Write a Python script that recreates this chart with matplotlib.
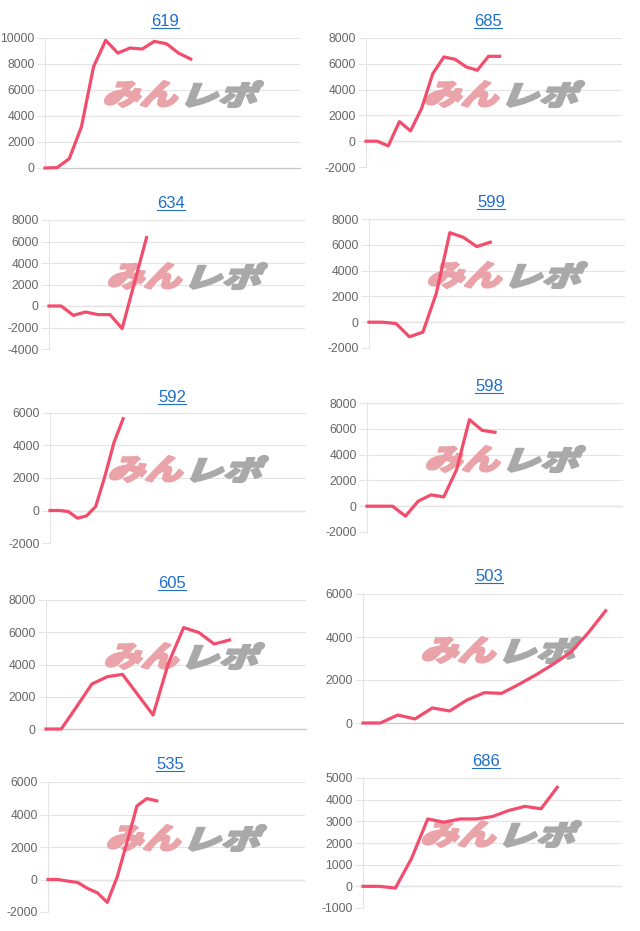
import numpy as np
import matplotlib
matplotlib.use("Agg")
import matplotlib.pyplot as plt
from matplotlib.textpath import TextPath
from matplotlib.font_manager import FontProperties
from matplotlib.patches import PathPatch
from matplotlib.transforms import Affine2D, IdentityTransform
from matplotlib.lines import Line2D

plt.rcParams['axes.unicode_minus'] = False

# --- data ---
titles = ['619', '685', '634', '599', '592', '598', '605', '503', '535', '686']

v619 = [0, 30, 720, 3170, 7800, 9820, 8840, 9230, 9150, 9740, 9560, 8840, 8380]
v685 = [0, 0, -360, 1520, 800, 2550, 5240, 6530, 6350, 5760, 5500, 6580, 6580]
v634 = [0, 0, -870, -560, -800, -800, -2100, 2130, 6360]
v599 = [0, 0, -100, -1130, -770, 2260, 6940, 6580, 5860, 6200]
v592 = [0, 0, -60, -470, -330, 250, 2100, 4190, 5650]
v598 = [0, 0, 0, -770, 390, 880, 720, 2840, 6710, 5880, 5730]
v605 = [0, 0, 1380, 2790, 3240, 3390, 2130, 870, 4070, 6290, 5980, 5270, 5520]
v503 = [0, 0, 370, 190, 700, 560, 1070, 1410, 1380, 1800, 2250, 2750, 3300, 4200, 5220]
v535 = [0, 0, -100, -180, -550, -820, -1410, 160, 2310, 4530, 4980, 4840]
v686 = [0, 0, -80, 1290, 3110, 2960, 3110, 3110, 3220, 3500, 3690, 3580, 4570]
series = [v619, v685, v634, v599, v592, v598, v605, v503, v535, v686]

# number of x slots on each chart (labels are hidden)
n_slots = [22, 24, 22, 20, 29, 21, 18, 16, 27, 17]
# y axis: min, max, step
y_axes = [(0, 10000, 2000), (-2000, 8000, 2000), (-4000, 8000, 2000),
          (-2000, 8000, 2000), (-2000, 6000, 2000), (-2000, 8000, 2000),
          (0, 8000, 2000), (0, 6000, 2000), (-2000, 6000, 2000),
          (-1000, 5000, 1000)]

# --- layout in pixels (left, right, top, bottom) ---
W, H = 640, 931
boxes = [(45, 300, 38, 168), (366, 622, 38, 167),
         (49, 305, 220, 349), (369, 625, 219, 348),
         (50, 306, 413, 543), (367, 623, 403, 532),
         (46, 306, 600, 729), (363, 623, 594, 723),
         (48, 305, 782, 912), (363, 622, 778, 908)]
title_xy = [(165, 26), (488, 26), (171, 208), (491, 207), (172, 402),
            (489, 391), (172, 588), (489, 581), (170, 769), (486, 766)]

LINE = '#f24d6c'
BLUE = '#1f6fc9'
GRID = '#e4e4e4'
PINK = '#eaa4a9'
GRAY = '#a9a9a9'

fig = plt.figure(figsize=(W / 100, H / 100), dpi=100)
wm_font = FontProperties(family='Noto Sans CJK JP', weight='heavy')


def watermark(ax, x0, y0):
    # "みんレポ" logo, skewed like the site's stamp
    parts = [('みん', PINK, 0, 73), ('レポ', GRAY, 81, 77)]
    for txt, col, dx, w in parts:
        tp = TextPath((0, 0), txt, size=40, prop=wm_font)
        path = Affine2D().skew_deg(16, 0).transform_path(tp)
        ext = path.get_extents()
        tr = (Affine2D().translate(-ext.x0, -ext.y0)
              .scale(w / ext.width, 26 / ext.height)
              .translate(x0 + dx, H - (y0 + 27)))
        p = PathPatch(tr.transform_path(path), fc=col, ec=col, lw=1.6,
                      joinstyle='round',
                      transform=IdentityTransform(), zorder=1, clip_on=False)
        ax.add_artist(p)


title_texts = []
for i, vals in enumerate(series):
    l, r, t, b = boxes[i]
    ax = fig.add_axes([l / W, 1 - b / H, (r - l) / W, (b - t) / H])
    lo, hi, step = y_axes[i]

    ax.plot(range(len(vals)), vals, color=LINE, lw=2.3, zorder=3,
            clip_on=False, solid_joinstyle='round')
    ax.set_xlim(0, n_slots[i] - 1)
    ax.set_ylim(lo, hi)
    ax.set_yticks(np.arange(lo, hi + 1, step))
    ax.set_xticks([])
    ax.yaxis.grid(True, color=GRID, lw=0.8)
    ax.set_axisbelow(True)
    if lo < 0:
        ax.axhline(0, color='#c8c8c8', lw=0.9, zorder=0.5)
    for s in ['top', 'right', 'bottom']:
        ax.spines[s].set_visible(False)
    ax.spines['left'].set_color(GRID)
    ax.spines['left'].set_linewidth(0.8)
    if lo == 0:
        ax.spines['bottom'].set_visible(True)
        ax.spines['bottom'].set_color('#c8c8c8')
        ax.spines['bottom'].set_linewidth(0.9)
    ax.tick_params(axis='y', length=6, width=0.8, color=GRID, pad=1.5,
                   labelsize=8.7, labelcolor='#666666')
    for lab in ax.get_yticklabels():
        lab.set_family('Liberation Sans')
    ax.patch.set_alpha(0)

    watermark(ax, l + 60, t + 42)

    tx, ty = title_xy[i]
    txt = fig.text(tx / W, 1 - ty / H, titles[i], ha='center', va='baseline',
                   color=BLUE, fontsize=12, family='Liberation Sans')
    title_texts.append(txt)

# underline the titles (they are links)
renderer = fig.canvas.get_renderer()
for txt in title_texts:
    bb = txt.get_window_extent(renderer)
    x, y = txt.get_position()
    yb = y * H - 2
    fig.add_artist(Line2D([bb.x0, bb.x1], [yb, yb], color=BLUE, lw=0.8,
                          transform=IdentityTransform()))

fig.savefig('out.png', dpi=100)
